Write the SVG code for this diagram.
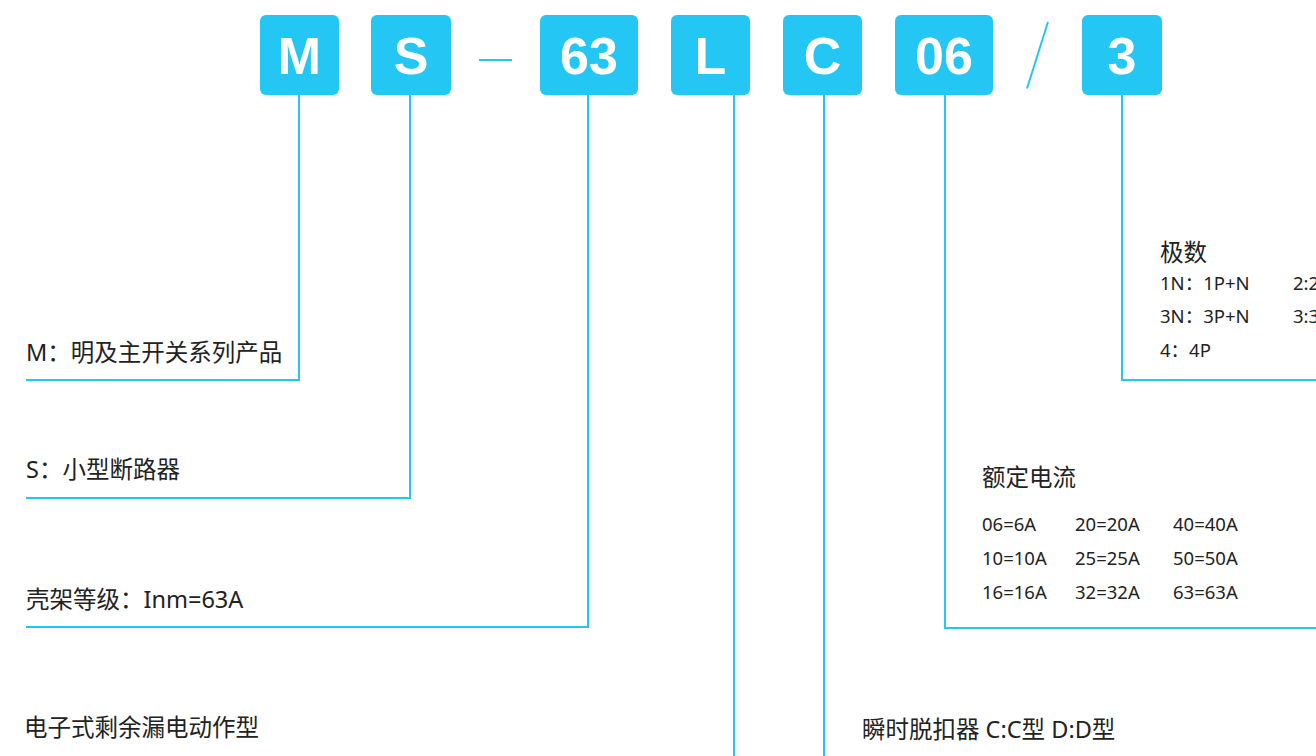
<svg xmlns="http://www.w3.org/2000/svg" width="1316" height="756" viewBox="0 0 1316 756">
<style>
.box{fill:#24C6F4}
.bt{font-family:"Liberation Sans",Arial,sans-serif;font-weight:bold;font-size:52px;fill:#fff;text-anchor:middle}
.ln{fill:none;stroke:#24C6F4;stroke-width:2}
.t{font-family:"Noto Sans","Noto Sans CJK SC",sans-serif;fill:#222}
.lg{font-size:23.5px}
.sm{font-size:18.5px}
</style>
<rect width="1316" height="756" fill="#fff"/>
<g id="connectors">
<path class="ln" d="M299 94V380H26"/>
<path class="ln" d="M410 94V498H26"/>
<path class="ln" d="M588 94V627H26"/>
<path class="ln" d="M734 94V756"/>
<path class="ln" d="M824 94V756"/>
<path class="ln" d="M945 94V628H1316"/>
<path class="ln" d="M1122 94V380H1316"/>
<path class="ln" d="M479 60H512"/>
<path class="ln" d="M1048 22L1027 88.5" stroke-width="3"/>
</g>
<g id="node-M"><rect class="box" x="260" y="15" width="79" height="80" rx="6"/><text class="bt" x="299.5" y="74">M</text></g>
<g id="node-S"><rect class="box" x="371" y="15" width="80" height="80" rx="6"/><text class="bt" x="411" y="74">S</text></g>
<g id="node-63"><rect class="box" x="540" y="15" width="98" height="80" rx="6"/><text class="bt" x="589" y="74">63</text></g>
<g id="node-L"><rect class="box" x="671" y="15" width="79" height="80" rx="6"/><text class="bt" x="710.5" y="74">L</text></g>
<g id="node-C"><rect class="box" x="783" y="15" width="79" height="80" rx="6"/><text class="bt" x="822.5" y="74">C</text></g>
<g id="node-06"><rect class="box" x="895" y="15" width="98" height="80" rx="6"/><text class="bt" x="944" y="74">06</text></g>
<g id="node-3"><rect class="box" x="1082" y="15" width="80" height="80" rx="6"/><text class="bt" x="1122" y="74">3</text></g>
<g id="label-M"><text class="t lg" x="26" y="361">M：明及主开关系列产品</text></g>
<g id="label-S"><text class="t lg" x="26" y="478">S：小型断路器</text></g>
<g id="label-63"><text class="t lg" x="26" y="608">壳架等级：Inm=63A</text></g>
<g id="label-L"><text class="t lg" x="24" y="736">电子式剩余漏电动作型</text></g>
<g id="label-C"><text class="t lg" x="862" y="738">瞬时脱扣器 C:C型 D:D型</text></g>
<g id="label-3">
<text class="t lg" x="1160" y="261">极数</text>
<text class="t sm" x="1160" y="290">1N：1P+N</text>
<text class="t sm" x="1293" y="290">2:2P</text>
<text class="t sm" x="1160" y="323">3N：3P+N</text>
<text class="t sm" x="1293" y="323">3:3P</text>
<text class="t sm" x="1160" y="357">4：4P</text>
</g>
<g id="label-06">
<text class="t lg" x="982" y="486">额定电流</text>
<text class="t sm" x="982" y="531">06=6A</text>
<text class="t sm" x="1075" y="531">20=20A</text>
<text class="t sm" x="1173" y="531">40=40A</text>
<text class="t sm" x="982" y="565">10=10A</text>
<text class="t sm" x="1075" y="565">25=25A</text>
<text class="t sm" x="1173" y="565">50=50A</text>
<text class="t sm" x="982" y="599">16=16A</text>
<text class="t sm" x="1075" y="599">32=32A</text>
<text class="t sm" x="1173" y="599">63=63A</text>
</g>
</svg>
